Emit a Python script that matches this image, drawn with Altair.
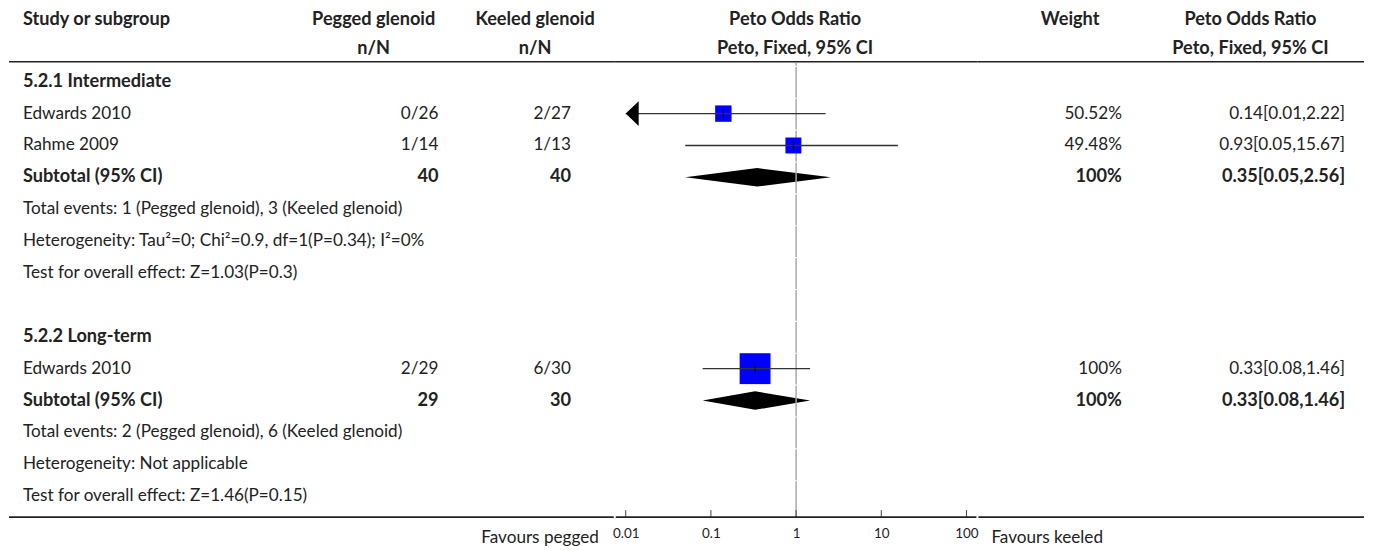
import altair as alt
import pandas as pd

FONT = "Lato"
TXT = "#222222"
FS = 17.2
FSB = 18.2

# ---- table rows ----
labels = [
    "5.2.1 Intermediate", "Edwards 2010", "Rahme 2009", "Subtotal (95% CI)",
    "Total events: 1 (Pegged glenoid), 3 (Keeled glenoid)",
    "Heterogeneity: Tau\u00b2=0; Chi\u00b2=0.9, df=1(P=0.34); I\u00b2=0%",
    "Test for overall effect: Z=1.03(P=0.3)", "",
    "5.2.2 Long-term", "Edwards 2010", "Subtotal (95% CI)",
    "Total events: 2 (Pegged glenoid), 6 (Keeled glenoid)",
    "Heterogeneity: Not applicable",
    "Test for overall effect: Z=1.46(P=0.15)",
]
bold = [True, False, False, True, False, False, False, False,
        True, False, True, False, False, False]
pegged = ["", "0/26", "1/14", "40", "", "", "", "", "", "2/29", "29", "", "", ""]
keeled = ["", "2/27", "1/13", "40", "", "", "", "", "", "6/30", "30", "", "", ""]
weight_txt = ["", "50.52%", "49.48%", "100%", "", "", "", "", "", "100%", "100%", "", "", ""]
or_txt = ["", "0.14[0.01,2.22]", "0.93[0.05,15.67]", "0.35[0.05,2.56]", "", "", "", "",
          "", "0.33[0.08,1.46]", "0.33[0.08,1.46]", "", "", ""]

# ---- studies ----
study_row = [1, 2, 9]
study_est = [0.14, 0.93, 0.33]
study_lo = [0.01, 0.05, 0.08]
study_hi = [2.22, 15.67, 1.46]
study_w = [50.52, 49.48, 100]
arrow_row = [1]
arrow_at = [0.01]

# ---- subtotals ----
sub_row = [3, 10]
sub_est = [0.35, 0.33]
sub_lo = [0.05, 0.08]
sub_hi = [2.56, 1.46]

tick_vals = [0.01, 0.1, 1, 10, 100]

left_headers = ["Study or subgroup", "Pegged glenoid", "Keeled glenoid"]
nN = ["n/N", "n/N"]
plot_headers = ["Peto Odds Ratio", "Peto, Fixed, 95% CI"]
right_headers = ["Weight", "Peto Odds Ratio", "Peto, Fixed, 95% CI"]
favours = ["Favours pegged", "Favours keeled"]

# ---- layout constants ----
TOP = 1
H = 509
WL, WP, WR = 608, 364, 388
ROW_TOP = -72 / 32
ROW_BOT = ROW_TOP + H / 32
HDR1, HDR2, HLINE, BLINE, FAV_Y = 10, 39, 52, 509, 530

tbl = pd.DataFrame({"row": list(range(len(labels))), "label": labels, "bold": bold,
                    "pegged": pegged, "keeled": keeled, "wt": weight_txt, "ortxt": or_txt})
yscale = alt.Scale(domain=[ROW_TOP, ROW_BOT], reverse=True, nice=False, zero=False)
Y = alt.Y("row:Q", scale=yscale, axis=None)


def txt(align="left", weight="normal"):
    return dict(font=FONT, fontSize=FSB if weight == "bold" else FS, color=TXT, align=align,
                baseline="middle", fontWeight=weight)


def hline(width, yv, dx=0):
    return alt.Chart(pd.DataFrame({"a": [0]})).mark_rule(color=TXT, strokeWidth=1.6).encode(
        x=alt.value(dx), x2=alt.value(width), y=alt.value(yv))


def hdr(text, xv, yv, align="center"):
    return alt.Chart(pd.DataFrame({"t": [text]})).mark_text(**txt(align, "bold")).encode(
        x=alt.value(xv), y=alt.value(yv), text="t:N")


base = alt.Chart(tbl)
norm = base.transform_filter("!datum.bold")
bld = base.transform_filter("datum.bold")

left = alt.layer(
    norm.mark_text(**txt("left")).encode(x=alt.value(14), y=Y, text="label:N"),
    bld.mark_text(**txt("left", "bold")).encode(x=alt.value(14), y=Y, text="label:N"),
    norm.mark_text(**txt("right")).encode(x=alt.value(431), y=Y, text="pegged:N"),
    bld.mark_text(**txt("right", "bold")).encode(x=alt.value(431), y=Y, text="pegged:N"),
    norm.mark_text(**txt("right")).encode(x=alt.value(564), y=Y, text="keeled:N"),
    bld.mark_text(**txt("right", "bold")).encode(x=alt.value(564), y=Y, text="keeled:N"),
    hdr(left_headers[0], 14, HDR1, "left"),
    hdr(left_headers[1], 366, HDR1),
    hdr(nN[0], 366, HDR2),
    hdr(left_headers[2], 528, HDR1),
    hdr(nN[1], 528, HDR2),
    hline(WL, HLINE),
    hline(WL - 1, BLINE),
    alt.Chart(pd.DataFrame({"t": [favours[0]]})).mark_text(**txt("right")).encode(
        x=alt.value(592), y=alt.value(FAV_Y), text="t:N"),
).properties(width=WL, height=H)

# ---- forest plot ----
xscale = alt.Scale(type="log", domain=[0.01, 100], padding=11, nice=False)
xaxis = alt.Axis(values=tick_vals, format="~g", domain=False, ticks=False, grid=False,
                 labelFont=FONT, labelFontSize=13.5, labelColor=TXT, labelPadding=9,
                 title=None, labelFlush=False)
studies = pd.DataFrame({"row": study_row, "est": study_est, "lo": study_lo,
                        "hi": study_hi, "w": study_w})
arrows = pd.DataFrame({"row": arrow_row, "x": arrow_at})
dia = []
for i, (r, e, lo, hi) in enumerate(zip(sub_row, sub_est, sub_lo, sub_hi)):
    for xv, k in ((lo, 0), (e, 1), (hi, 0)):
        dia.append({"g": i, "row": r, "x": xv, "k": k})
dia = pd.DataFrame(dia)
bounds = [-0.625] + [i + 0.5 for i in range(-1, 13)] + [ROW_BOT]
segs = pd.DataFrame({"y0": [b + 0.035 for b in bounds[:-1]], "y1": bounds[1:], "one": 1})
ticks = pd.DataFrame({"t": tick_vals})


def X(f):
    return alt.X(f, scale=xscale, axis=xaxis)


plot = alt.layer(
    alt.Chart(dia).transform_calculate(
        y0="datum.row - 0.29*datum.k", y1="datum.row + 0.29*datum.k"
    ).mark_area(color="black", opacity=1).encode(
        x=X("x:Q"), y=alt.Y("y0:Q", scale=yscale, axis=None), y2="y1:Q", detail="g:N"),
    alt.Chart(segs).mark_rule(color="#aaaaaa", strokeWidth=1.5).encode(
        x=X("one:Q"), y=alt.Y("y0:Q", scale=yscale, axis=None), y2="y1:Q"),
    alt.Chart(studies).mark_square(color="#0000ff", opacity=1).encode(
        x=X("est:Q"), y=Y,
        size=alt.Size("w:Q", scale=alt.Scale(domain=[49.48, 100], range=[256, 961], zero=False),
                      legend=None)),
    alt.Chart(studies).mark_rule(color="#333333", strokeWidth=1.3).encode(
        x=X("lo:Q"), x2="hi:Q", y=Y),
    alt.Chart(studies).mark_tick(orient="vertical", color="#111111", size=9, thickness=1.5).encode(
        x=X("est:Q"), y=Y),
    alt.Chart(arrows).mark_point(shape="M0,0L1.04,-1L1.04,1Z", filled=True, color="black",
                                 opacity=1, size=625, strokeWidth=0).encode(x=X("x:Q"), y=Y),
    alt.Chart(ticks).mark_rule(color="#444444", strokeWidth=1).encode(
        x=X("t:Q"), y=alt.value(BLINE - 7), y2=alt.value(BLINE)),
    hdr(plot_headers[0], 181, HDR1),
    hdr(plot_headers[1], 181, HDR2),
    hline(WP, HLINE),
    hline(WP - 1, BLINE, 1),
).properties(width=WP, height=H)

right = alt.layer(
    norm.mark_text(**txt("right")).encode(x=alt.value(145), y=Y, text="wt:N"),
    bld.mark_text(**txt("right", "bold")).encode(x=alt.value(145), y=Y, text="wt:N"),
    norm.mark_text(**txt("right")).encode(x=alt.value(369), y=Y, text="ortxt:N"),
    bld.mark_text(**txt("right", "bold")).encode(x=alt.value(369), y=Y, text="ortxt:N"),
    hdr(right_headers[0], 93, HDR1),
    hdr(right_headers[1], 274, HDR1),
    hdr(right_headers[2], 274, HDR2),
    hline(WR, HLINE),
    hline(WR, BLINE, 1),
    alt.Chart(pd.DataFrame({"t": [favours[1]]})).mark_text(**txt("left")).encode(
        x=alt.value(14), y=alt.value(FAV_Y), text="t:N"),
).properties(width=WR, height=H)

chart = alt.hconcat(left, plot, right, spacing=0, bounds="flush").properties(
    padding={"top": TOP, "left": 0, "right": 0, "bottom": 0}, background="white"
).configure_view(stroke=None)

chart.save("out.html", embed_options={"renderer": "svg", "actions": False})
